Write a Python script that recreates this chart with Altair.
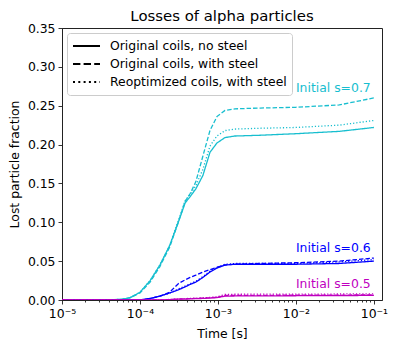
import altair as alt
import pandas as pd

# time grid [s]
t = [1e-5, 4e-5, 6e-5, 7.5e-5, 1e-4, 1.35e-4, 1.8e-4, 2.4e-4, 3.1e-4, 3.8e-4, 4.4e-4,
     5.2e-4, 6.4e-4, 7.9e-4, 9.7e-4, 1.23e-3, 1.65e-3, 3.5e-3, 1e-2, 3.6e-2, 1e-1]

# s = 0.7
c_solid = [0, 0, 0.001, 0.003, 0.010, 0.025, 0.045, 0.070, 0.100, 0.125, 0.133,
           0.143, 0.160, 0.190, 0.202, 0.209, 0.211, 0.212, 0.214, 0.217, 0.222]
c_dash = [0, 0, 0.001, 0.003, 0.009, 0.023, 0.043, 0.068, 0.100, 0.127, 0.137,
          0.152, 0.185, 0.218, 0.236, 0.244, 0.246, 0.247, 0.248, 0.251, 0.260]
c_dot = [0, 0, 0.001, 0.003, 0.010, 0.025, 0.045, 0.070, 0.102, 0.128, 0.136,
         0.147, 0.168, 0.198, 0.211, 0.218, 0.220, 0.221, 0.222, 0.225, 0.231]
# s = 0.6
b_solid = [0, 0, 0, 0, 0.000, 0.002, 0.005, 0.009, 0.013, 0.017, 0.020,
           0.023, 0.029, 0.036, 0.041, 0.045, 0.046, 0.046, 0.046, 0.047, 0.050]
b_dash = [0, 0, 0, 0, 0.000, 0.002, 0.005, 0.010, 0.021, 0.026, 0.029,
          0.032, 0.036, 0.039, 0.042, 0.045, 0.046, 0.047, 0.048, 0.050, 0.054]
b_dot = [0, 0, 0, 0, 0.000, 0.002, 0.005, 0.009, 0.014, 0.018, 0.021,
         0.024, 0.030, 0.037, 0.042, 0.046, 0.047, 0.047, 0.047, 0.049, 0.052]
# s = 0.5
m_solid = [0, 0, 0, 0, 0, 0, 0.000, 0.0005, 0.001, 0.0012, 0.0015,
           0.0018, 0.002, 0.0025, 0.003, 0.005, 0.0052, 0.0053, 0.0055, 0.0056, 0.006]
m_dash = [0, 0, 0, 0, 0, 0, 0.000, 0.0006, 0.0012, 0.0015, 0.0018,
          0.002, 0.0023, 0.0028, 0.0035, 0.0058, 0.006, 0.006, 0.0062, 0.0063, 0.0066]
m_dot = [0, 0, 0, 0, 0, 0, 0.000, 0.0007, 0.0014, 0.0018, 0.0021,
         0.0024, 0.0028, 0.0033, 0.004, 0.0072, 0.0074, 0.0075, 0.0076, 0.0077, 0.008]

styles = ["Original coils, no steel", "Original coils, with steel", "Reoptimized coils, with steel"]
s_domain = ["0.5", "0.6", "0.7"]
s_colors = ["#bf00bf", "#0000ff", "#17becf"]

ann_text = ["Initial s=0.7", "Initial s=0.6", "Initial s=0.5"]
ann_s = ["0.7", "0.6", "0.5"]
ann_x = [0.091, 0.091, 0.091]
ann_y = [0.273, 0.067, 0.0206]

y_ticks = [0, 0.05, 0.10, 0.15, 0.20, 0.25, 0.30, 0.35]
x_ticks = [m * 10.0 ** e for e in range(-5, -1) for m in range(1, 10)] + [0.1]

series = [
    ("0.7", styles[0], c_solid), ("0.7", styles[1], c_dash), ("0.7", styles[2], c_dot),
    ("0.6", styles[0], b_solid), ("0.6", styles[1], b_dash), ("0.6", styles[2], b_dot),
    ("0.5", styles[0], m_solid), ("0.5", styles[1], m_dash), ("0.5", styles[2], m_dot),
]
rows = []
for s, st, vals in series:
    for ti, v in zip(t, vals):
        rows.append({"t": ti, "frac": v, "s": s, "style": st})
df = pd.DataFrame(rows)

ann = pd.DataFrame({"text": ann_text, "s": ann_s, "t": ann_x, "frac": ann_y})

FONT = "DejaVu Sans"
FS = 12.4
is_major = "abs(log(datum.value)/LN10 - round(log(datum.value)/LN10)) < 0.001"
label_expr = (is_major + " ? '10\u207b' + ['\u2070','\u00b9','\u00b2','\u00b3','\u2074','\u2075']"
              "[-round(log(datum.value)/LN10)] : ''")

x_scale = alt.Scale(type="log", domain=[1e-5, 0.127], nice=False)
y_scale = alt.Scale(domain=[0, 0.35], nice=False, zero=True)
color_scale = alt.Scale(domain=s_domain, range=s_colors)

x_enc = alt.X("t:Q", scale=x_scale, title="Time [s]",
              axis=alt.Axis(values=x_ticks, labelExpr=label_expr, labelFlush=False,
                            labelOverlap=False,
                            tickSize={"condition": {"test": is_major, "value": 4}, "value": 2},
                            labelPadding=3, titlePadding=8))
y_enc = alt.Y("frac:Q", scale=y_scale, title="Lost particle fraction",
              axis=alt.Axis(values=y_ticks, format=".2f", tickSize=4, labelPadding=3,
                            labelOverlap=False, labelFlush=False, titlePadding=6))
color_enc = alt.Color("s:N", scale=color_scale, legend=None)

# invisible layer that only carries the legend (legend-sized dash patterns)
legend_layer = alt.Chart(df).mark_line(opacity=0).encode(
    x=x_enc, y=y_enc, detail="s:N",
    strokeDash=alt.StrokeDash(
        "style:N",
        scale=alt.Scale(domain=styles, range=[[1, 0], [7.4, 3.2], [2, 3.3]]),
        sort=styles,
        legend=alt.Legend(
            title=None, orient="none", legendX=5, legendY=5,
            symbolType="stroke", symbolSize=729, symbolStrokeWidth=2,
            symbolStrokeColor="black", symbolOpacity=1, labelFont=FONT, labelFontSize=FS,
            labelColor="black", labelLimit=400, strokeColor="#cccccc", fillColor="white",
            padding=5, cornerRadius=3, rowPadding=2, clipHeight=16, labelOffset=9,
        ),
    ),
)

lines = alt.Chart(df).mark_line(strokeWidth=1.3, clip=True).encode(
    x=x_enc, y=y_enc, color=color_enc, detail="style:N",
    strokeDash=alt.StrokeDashValue(
        [1, 0],
        condition=[
            {"test": "datum.style === '" + styles[1] + "'", "value": [4.5, 2]},
            {"test": "datum.style === '" + styles[2] + "'", "value": [1.2, 2]},
        ],
    ),
)

texts = alt.Chart(ann).mark_text(align="right", baseline="middle", font=FONT, fontSize=FS).encode(
    x=x_enc, y=y_enc, text="text:N", color=color_enc,
)

chart = alt.layer(lines, texts, legend_layer).properties(
    width=320, height=272,
    title=alt.TitleParams("Losses of alpha particles", font=FONT, fontSize=14.9,
                          fontWeight="normal", color="black", offset=-2, anchor="middle"),
    autosize=alt.AutoSizeParams(type="none"),
    padding={"left": 54, "top": 20, "right": 7, "bottom": 40},
).configure_view(stroke="#222222", strokeWidth=1).configure_axis(
    labelFont=FONT, titleFont=FONT, labelFontSize=FS, titleFontSize=FS,
    labelColor="black", titleColor="black", titleFontWeight="normal",
    domainColor="#222222", tickColor="black", tickWidth=0.8, grid=False,
)

chart.save("out.html", embed_options={"renderer": "svg", "actions": False})
